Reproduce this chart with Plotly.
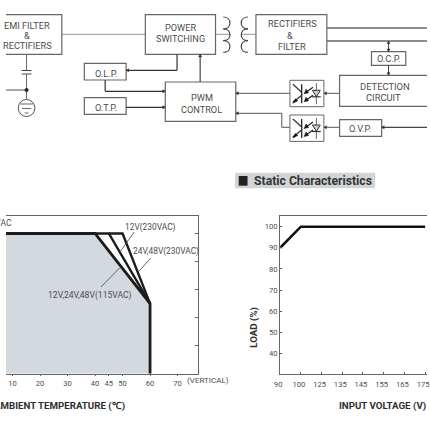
import plotly.graph_objects as go

# ---------- data ----------
derate_temp_base = [-20, 40, 60, 60]
derate_load_base = [100, 100, 50, 0]
derate_temp_24v = [40, 45, 60]
derate_load_24v = [100, 100, 50]
derate_temp_12v = [45, 50, 60]
derate_load_12v = [100, 100, 50]
temp_ticks = [10, 20, 30, 40, 45, 50, 60, 70]
load_ticks_left = [20, 40, 60, 80, 100]
input_voltage = ["90", "100", "125", "135", "145", "155", "165", "175"]
input_load = [90, 100, 100, 100, 100, 100, 100, 100]
load_ticks = [40, 50, 60, 70, 80, 90, 100]

FONT = "Roboto"
INK = "#4d4d4d"
BOX = "#666666"
TITLE = "#2e2e2e"

fig = go.Figure()

# ---------- left chart ----------
fig.add_trace(go.Scatter(x=derate_temp_base, y=derate_load_base, mode="lines", fill="tozeroy",
                         fillcolor="#d3d9df", line=dict(color="#1c1c1c", width=2.8), xaxis="x", yaxis="y",
                         showlegend=False))
for xs, ys in ((derate_temp_24v, derate_load_24v), (derate_temp_12v, derate_load_12v)):
    fig.add_trace(go.Scatter(x=xs, y=ys, mode="lines", line=dict(color="#1c1c1c", width=2.4),
                             xaxis="x", yaxis="y", showlegend=False))

# ---------- right chart ----------
fig.add_trace(go.Scatter(x=input_voltage, y=input_load, mode="lines", line=dict(color="#111111", width=2.6),
                         xaxis="x2", yaxis="y2", showlegend=False))

# helper pixel axis for the block diagram
fig.add_trace(go.Scatter(x=[0], y=[0], mode="markers", marker=dict(opacity=0), xaxis="x3", yaxis="y3",
                         showlegend=False, hoverinfo="skip"))

shapes = []
ann = []


def line(x0, y0, x1, y1, w=1.0, c="#555555"):
    shapes.append(dict(type="line", xref="x3", yref="y3", x0=x0, y0=y0, x1=x1, y1=y1,
                       line=dict(color=c, width=w)))


def rect(x0, y0, x1, y1, w=1.2, c=BOX, fill=None):
    shapes.append(dict(type="rect", xref="x3", yref="y3", x0=x0, y0=y0, x1=x1, y1=y1,
                       line=dict(color=c, width=w), fillcolor=fill or "rgba(0,0,0,0)"))


def tri(pts, c="#333333"):
    p = "M" + " L".join(f"{x},{y}" for x, y in pts) + " Z"
    shapes.append(dict(type="path", xref="x3", yref="y3", path=p, fillcolor=c,
                       line=dict(color=c, width=0.5)))


def arrow(x, y, d, s=2.6):
    if d == "l":
        tri([(x, y), (x + s, y - s * .6), (x + s, y + s * .6)])
    elif d == "r":
        tri([(x, y), (x - s, y - s * .6), (x - s, y + s * .6)])
    elif d == "d":
        tri([(x, y), (x - s * .6, y - s), (x + s * .6, y - s)])
    else:
        tri([(x, y), (x - s * .6, y + s), (x + s * .6, y + s)])


def text(x, y, t, size=9.2, color=INK, anchor="center", bold=False, rot=0):
    ann.append(dict(xref="x3", yref="y3", x=x, y=y, text=f"<b>{t}</b>" if bold else t, showarrow=False,
                    xanchor=anchor, yanchor="middle", textangle=rot, borderpad=0, borderwidth=0,
                    font=dict(family=FONT, size=size, color=color)))


# boxes
rect(-15, 14.7, 57, 54.3)
rect(142.3, 14.7, 214, 54.3)
rect(255.3, 14.7, 327.7, 54.3)
rect(80, 63.3, 122.7, 80)
rect(80, 97.7, 122.7, 114.3)
rect(162.7, 82, 234.7, 121.3)
rect(373.3, 51.7, 408.3, 65.3)
rect(340.7, 75.3, 445, 106.3)
rect(340.7, 119.7, 383.7, 136.3)

# wires
line(57, 34.3, 142.3, 34.3, .8, "#777777")
line(174.7, 54.3, 174.7, 70.3, 1.2, "#333333")
line(174.7, 70.3, 122.7, 70.3, 1.2, "#333333")
arrow(122.7, 70.3, "l")
line(101.3, 80, 101.3, 91.3, 1.2, "#333333")
line(101.3, 91.3, 162.7, 91.3, 1.2, "#333333")
arrow(162.7, 91.3, "r")
line(122.7, 107.3, 162.7, 107.3, 1.2, "#333333")
arrow(162.7, 107.3, "r")
line(198.3, 82, 198.3, 54.3, 1.2, "#444444")
arrow(198.3, 54.3, "u")
line(214, 34.3, 229, 34.3, .8, "#777777")
line(240, 34.3, 255.3, 34.3, .8, "#777777")
line(327.7, 28, 430, 28, 1.4, "#666666")
line(327.7, 41, 430, 41, 1.4, "#666666")
line(390.7, 41, 390.7, 51.7, 1, "#444444")
arrow(390.7, 51.7, "d")
arrow(390.7, 41, "u")
line(390.7, 65.3, 390.7, 75.3, 1, "#444444")
arrow(390.7, 75.3, "d")
line(340.7, 93.3, 324.7, 93.3, 1, "#555555")
arrow(324.7, 93.3, "l")
line(290, 93.3, 234.7, 93.3, 1, "#555555")
arrow(234.7, 93.3, "l")
line(290, 127.3, 281.7, 127.3, 1, "#555555")
line(281.7, 127.3, 281.7, 113.3, 1, "#555555")
line(281.7, 113.3, 234.7, 113.3, 1, "#555555")
arrow(234.7, 113.3, "l")
line(340.7, 127.3, 324.7, 127.3, 1, "#555555")
arrow(324.7, 127.3, "l")
line(430, 127.3, 383.7, 127.3, 1.2, "#444444")
arrow(383.7, 127.3, "l")

# EMI branch
line(21, 54.3, 21, 70.5, 1, "#666666")
line(16, 70.5, 26, 70.5, 1, "#444444")
line(16, 74, 26, 74, 1, "#444444")
line(21, 74, 21, 99.5, 1, "#666666")
line(0, 90, 21, 90, 1, "#555555")
shapes.append(dict(type="circle", xref="x3", yref="y3", x0=19.2, y0=88.2, x1=22.8, y1=91.8,
                   fillcolor="#222222", line=dict(color="#222222", width=.5)))
shapes.append(dict(type="circle", xref="x3", yref="y3", x0=12.5, y0=99.5, x1=29.5, y1=116.5,
                   line=dict(color="#555555", width=1)))
line(14.5, 104, 27.5, 104, 1, "#666666")
line(16.5, 108.5, 25.5, 108.5, 1, "#666666")
line(19, 113, 23, 113, 1, "#666666")


# transformer coils
def coil(x, direction):
    for i in range(3):
        y0 = 17 + i * 11.8
        y1 = y0 + 11.8
        bx = x + direction * 9
        shapes.append(dict(type="path", xref="x3", yref="y3",
                           path=f"M{x},{y0} C{bx},{y0} {bx},{y1} {x},{y1}",
                           line=dict(color="#444444", width=1.2)))


coil(222, 1)
coil(247, -1)


# opto couplers
def opto(y0):
    x0 = 290
    rect(x0, y0, 324.7, y0 + 26.4, 1, "#666666")
    # phototransistor
    line(302, y0 + 4, 302, y0 + 23, 1.3, "#222222")
    line(x0 + 3, y0 + 4, 302, y0 + 12, 1.2, "#333333")
    line(302, y0 + 15, x0 + 3, y0 + 22, 1.3, "#333333")
    tri([(x0 + 3, y0 + 23), (x0 + 5.5, y0 + 18.5), (x0 + 8, y0 + 20.5)], "#111111")
    # light arrows
    for dy in (0, 8):
        line(313.5, y0 + 7 + dy, 306.5, y0 + 12 + dy, 1.2, "#222222")
        tri([(304.5, y0 + 13.5 + dy), (309, y0 + 12.5 + dy), (306.5, y0 + 9 + dy)], "#111111")
    # diode
    line(x0 + 27, y0 + 3, x0 + 27, y0 + 24, .9, "#555555")
    shapes.append(dict(type="path", xref="x3", yref="y3",
                       path=f"M{x0+23},{y0+10} L{x0+31},{y0+10} L{x0+27},{y0+16.5} Z",
                       fillcolor="#cccccc", line=dict(color="#333333", width=1)))
    line(x0 + 22.5, y0 + 16.5, x0 + 31.5, y0 + 16.5, 1.2, "#333333")


opto(80.3)
opto(115)

# block text
text(21.5, 25, "EMI FILTER")
text(21.5, 35.7, "&")
text(21.5, 45.7, "RECTIFIERS")
text(178.2, 27, "POWER")
text(178, 38, "SWITCHING")
text(292.5, 23.3, "RECTIFIERS")
text(289.7, 35, "&")
text(291.7, 46.3, "FILTER")
text(102, 73.3, "O.L.P.")
text(102, 107.3, "O.T.P.")
text(200, 97.7, "PWM")
text(200, 109.3, "CONTROL")
text(390.7, 58, "O.C.P.")
text(386.7, 86, "DETECTION", 9.4)
text(385.5, 97.7, "CIRCUIT", 9.4)
text(361.7, 128.5, "O.V.P.")

# header
rect(234, 172.7, 377, 188.3, 0, "#d2d5d8", "#d2d5d8")
rect(237.7, 176, 246.7, 185.7, 0, "#222222", "#222222")
text(253, 181, "Static Characteristics", 12.2, "#333333", "left", True)

# left chart notes
text(5.7, 222.7, "230VAC", 8.5, INK, "right")
text(122, 227.3, "12V(230VAC)", 8.4, INK, "left")
text(130, 251.7, "24V,48V(230VAC)", 8.4, INK, "left")
text(43.3, 295, "12V,24V,48V(115VAC)", 8.6, INK, "left")
line(131, 232, 117, 251, .8, "#444444")
line(148, 258, 136, 271, .8, "#444444")
line(116, 268, 97, 287, .8, "#444444")
text(122, 406, "AMBIENT TEMPERATURE (℃)", 9.7, TITLE, "right", True)
text(185.3, 380, "(VERTICAL)", 8, INK, "left")
text(253.3, 327.7, "LOAD (%)", 9.7, TITLE, "center", True, -90)
text(384.3, 405.5, "INPUT VOLTAGE (V)", 9.7, TITLE, "center", True)

axis_common = dict(showgrid=False, zeroline=False, showline=True, linecolor="#666666", linewidth=1,
                   tickfont=dict(family=FONT, size=7.6, color=INK))

fig.update_layout(
    width=430, height=430, margin=dict(l=0, r=0, t=0, b=0), paper_bgcolor="#ffffff", plot_bgcolor="rgba(0,0,0,0)",
    shapes=shapes, annotations=ann, showlegend=False,
    xaxis=dict(domain=[0, 196.3 / 430], range=[7.62, 77.5], tickmode="array", tickvals=temp_ticks,
               ticks="outside", ticklen=1, tickcolor="#666666", anchor="y", mirror=True,
               ticklabelstandoff=1, **axis_common),
    yaxis=dict(domain=[(430 - 373.7) / 430, (430 - 215.7) / 430], range=[0, 112.7], tickmode="array",
               tickvals=load_ticks_left, ticks="inside", ticklen=3, tickcolor="#5566aa", side="right",
               showticklabels=False, anchor="x", **axis_common),
    xaxis2=dict(domain=[280 / 430, 1], range=[0, 7.09], type="category", categoryorder="array",
                categoryarray=input_voltage, ticks="inside", ticklen=2, tickcolor="#555555", anchor="y2",
                mirror=True, ticklabelshift=-2, ticklabelstandoff=3, **axis_common),
    yaxis2=dict(domain=[(430 - 374.3) / 430, (430 - 215.7) / 430], range=[30.1, 105.2], tickmode="array",
                tickvals=load_ticks, ticks="inside", ticklen=2, tickcolor="#555555", anchor="x2",
                **axis_common),
    xaxis3=dict(domain=[0, 1], range=[0, 430], visible=False, anchor="y3"),
    yaxis3=dict(domain=[0, 1], range=[430, 0], visible=False, anchor="x3"),
)

fig.write_html("out.html", config={"displayModeBar": False}, post_script="document.body.style.margin='0';")
